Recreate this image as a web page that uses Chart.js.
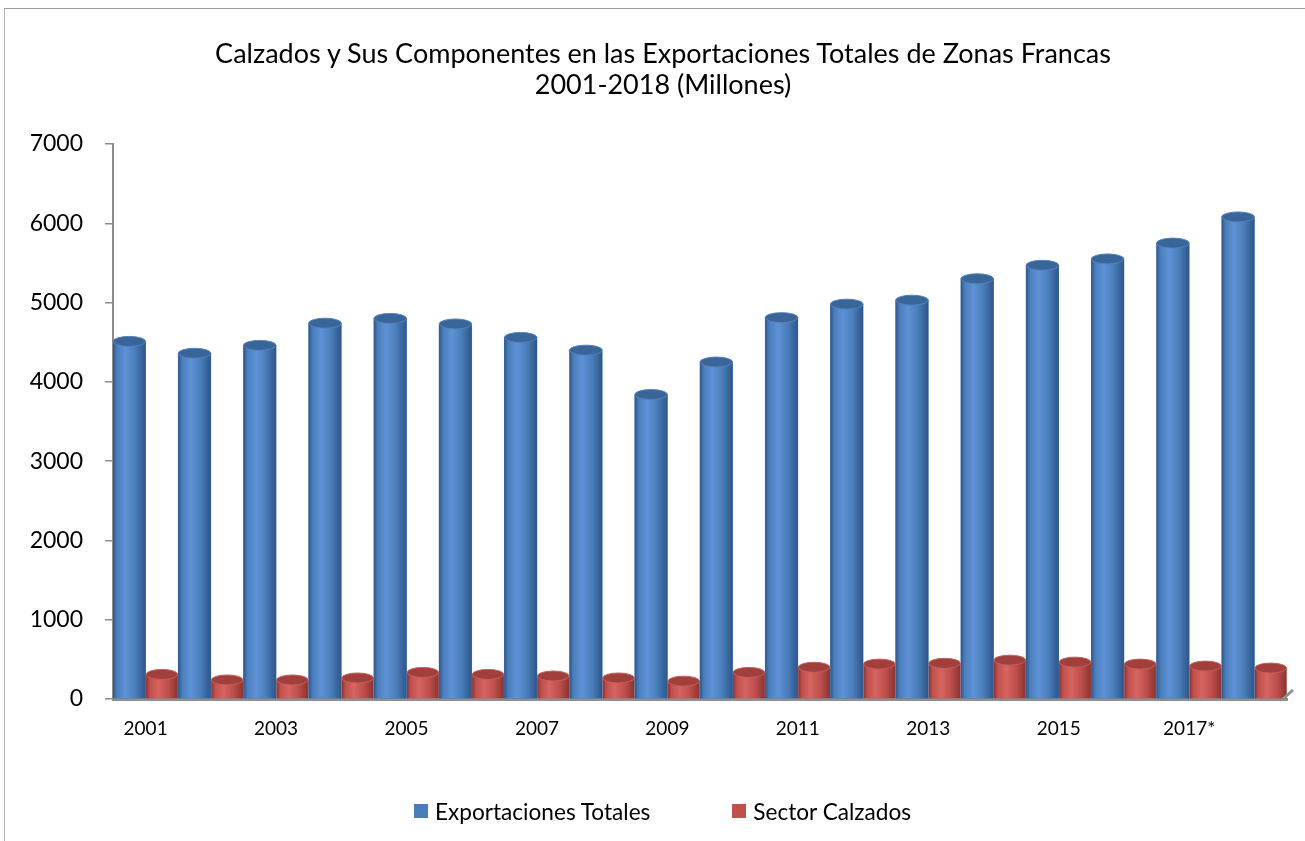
<!DOCTYPE html>
<html>
<head>
<meta charset="utf-8">
<script src="https://cdn.jsdelivr.net/npm/chart.js@4.4.1/dist/chart.umd.min.js"></script>
<style>
  html, body { margin: 0; padding: 0; background: #ffffff; overflow: hidden; }
  #wrap { position: absolute; left: 0; top: 0; width: 1305px; height: 841px; }
  #frame { position: absolute; left: 4px; top: 8px; width: 1320px; height: 860px;
           border-top: 1px solid #9c9c9c; border-left: 1px solid #b4b4b4; }
  #c { position: absolute; left: 0; top: 0; }
  #title { position: absolute; left: 21px; width: 1284px; top: 37px; text-align: center;
           font-family: Lato, 'Liberation Sans', sans-serif; font-size: 27px; line-height: 31px; color: #000; }
  #legend { position: absolute; left: 414px; top: 797px; height: 28px; display: flex;
            align-items: center; font-family: Lato, 'Liberation Sans', sans-serif; font-size: 22.6px; color: #000; }
  .item { display: flex; align-items: center; }
  .sw { width: 14px; height: 14px; margin-right: 7px; }
</style>
</head>
<body>
<div id="wrap">
  <div id="frame"></div>
  <canvas id="c" width="1305" height="841"></canvas>
  <div id="title"></div>
  <div id="legend"></div>
</div>
<script>
// ---- data ----
const categories = ['2001','2002','2003','2004','2005','2006','2007','2008','2009',
                    '2010','2011','2012','2013','2014','2015','2016','2017*','2018'];
const exportacionesTotales = [4510, 4360, 4460, 4740, 4800, 4730, 4560, 4400, 3840,
                              4250, 4810, 4980, 5030, 5300, 5470, 5550, 5750, 6080];
const sectorCalzados = [310, 240, 240, 265, 335, 310, 290, 265, 225,
                        335, 400, 440, 450, 490, 465, 440, 415, 390];
const seriesNames = ['Exportaciones Totales', 'Sector Calzados'];
const yTickValues = [0, 1000, 2000, 3000, 4000, 5000, 6000, 7000];
const titleLines = ['Calzados y Sus Componentes en las Exportaciones Totales de Zonas Francas',
                    '2001-2018 (Millones)'];

// ---- styles ----
const FONT = 'Lato';
const palettes = [
  { base: '#4a7ebb', edge: '#2f5689', hi: '#5e92d6', top: '#3a6599', rim: '#5582bd' },
  { base: '#c0504d', edge: '#8a3432', hi: '#d6645f', top: '#a13f3c', rim: '#c4605c' }
];

const cylinderPlugin = {
  id: 'cylinders',
  afterDatasetsDraw(chart) {
    const ctx = chart.ctx;
    ctx.save();
    [0, 1].forEach(di => {
      const meta = chart.getDatasetMeta(di);
      const p = palettes[di];
      meta.data.forEach(el => {
        const { x, y, base, width } = el.getProps(['x', 'y', 'base', 'width'], true);
        const w = width, l = x - w / 2, r = x + w / 2, ry = 5;
        const g = ctx.createLinearGradient(l, 0, r, 0);
        g.addColorStop(0, p.edge);
        g.addColorStop(0.12, p.base);
        g.addColorStop(0.38, p.hi);
        g.addColorStop(0.68, p.base);
        g.addColorStop(1, p.edge);
        ctx.fillStyle = g;
        ctx.fillRect(l, y, w, base - y);
        ctx.beginPath();
        ctx.ellipse(x, y, w / 2, ry, 0, 0, Math.PI * 2);
        ctx.fillStyle = p.top;
        ctx.fill();
        ctx.lineWidth = 1;
        ctx.strokeStyle = p.rim;
        ctx.stroke();
      });
    });
    ctx.restore();
  },
  afterDraw(chart) {
    const ctx = chart.ctx;
    const a = chart.chartArea;
    const y0 = chart.scales.y.getPixelForValue(0);
    ctx.save();
    ctx.strokeStyle = '#8f8f8f';
    ctx.lineWidth = 3;
    ctx.beginPath();
    ctx.moveTo(a.right - 4, y0);
    ctx.lineTo(a.right + 6, y0 - 9);
    ctx.stroke();
    ctx.restore();
  }
};

function build() {
  const ctx = document.getElementById('c').getContext('2d');
  new Chart(ctx, {
    type: 'bar',
    data: {
      labels: categories,
      datasets: [
        { label: seriesNames[0], data: exportacionesTotales, backgroundColor: palettes[0].base,
          borderWidth: 0, categoryPercentage: 1.0, barPercentage: 1.0 },
        { label: seriesNames[1], data: sectorCalzados, backgroundColor: palettes[1].base,
          borderWidth: 0, categoryPercentage: 1.0, barPercentage: 0.97 }
      ]
    },
    options: {
      responsive: false,
      animation: false,
      events: [],
      layout: { padding: { left: 0, right: 18, top: 144, bottom: 82 } },
      plugins: {
        legend: { display: false },
        tooltip: { enabled: false },
        title: { display: false }
      },
      scales: {
        x: {
          grid: { display: false, drawTicks: false },
          border: { display: true, color: '#8f8f8f', width: 3 },
          ticks: {
            autoSkip: false, maxRotation: 0, minRotation: 0, padding: 18,
            color: '#000000', font: { family: FONT, size: 19 },
            callback: function (v, i) { return i % 2 === 0 ? categories[i] : null; }
          },
          afterFit(s) { s.height = 60; }
        },
        y: {
          min: 0, max: 7000,
          afterBuildTicks(s) { s.ticks = yTickValues.map(v => ({ value: v })); },
          grid: { display: true, drawOnChartArea: false, drawTicks: true, tickLength: 8,
                  color: '#8c8c8c', tickColor: '#8c8c8c', lineWidth: 1.5 },
          border: { display: true, color: '#8c8c8c', width: 2 },
          ticks: { padding: 22, color: '#000000', font: { family: FONT, size: 23 },
                   callback: function (v) { return String(v); } },
          afterFit(s) { s.width = 113; }
        }
      }
    },
    plugins: [cylinderPlugin]
  });

  const tt = document.getElementById('title');
  titleLines.forEach(line => {
    const d = document.createElement('div');
    d.textContent = line;
    tt.appendChild(d);
  });

  const lg = document.getElementById('legend');
  seriesNames.forEach((name, i) => {
    const it = document.createElement('div');
    it.className = 'item';
    if (i > 0) it.style.marginLeft = '82px';
    const sw = document.createElement('div');
    sw.className = 'sw';
    sw.style.background = palettes[i].base;
    const tx = document.createElement('span');
    tx.textContent = name;
    it.appendChild(sw);
    it.appendChild(tx);
    lg.appendChild(it);
  });
}

if (document.fonts && document.fonts.load) {
  Promise.all([document.fonts.load('22px Lato'), document.fonts.load('27px Lato')])
    .then(build, build);
} else { build(); }
</script>
</body>
</html>
